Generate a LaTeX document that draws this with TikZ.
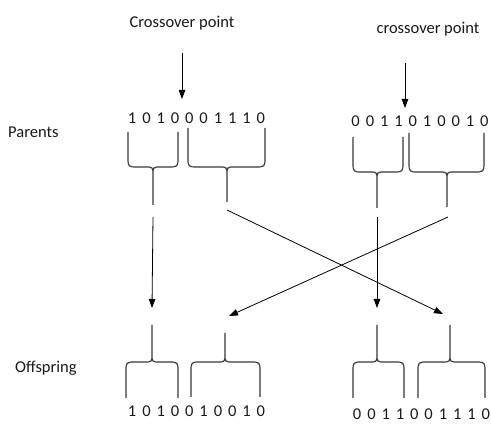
\documentclass[tikz,border=0pt]{standalone}
\usepackage{fontspec}
\setmainfont{Carlito}
\usetikzlibrary{arrows.meta}

\tikzset{
  brc/.style={draw=black!78, line width=1.2pt, line join=round},
  arr/.style={-{Triangle[width=6.5pt,length=9pt]}, line width=0.8pt},
  lbl/.style={font=\fontsize{16.5}{19}\selectfont, text=black!90, inner sep=0pt},
  bits/.style={lbl},
}

% one row of genes, every digit in a box of the same width
\newcommand\bitrow[1]{\foreach \b in {#1}{\makebox[14.3pt]{\b}}}

% brace: sides at #1 and #2, spike at #3; sides end at #4, bar at #5, spike tip at #6 (named #7)
\newcommand\gbrace[7]{
  \pgfmathsetmacro\bd{ifthenelse(#6>#5,10,-10)}
  \pgfmathsetmacro\sd{ifthenelse(#6>#5,8,-8)}
  \draw[brc] (#1,#4) -- (#1,{#5-(\bd)}) .. controls (#1,#5) .. ({#1+10},#5) -- ({#3-8},#5)
    .. controls (#3,#5) .. (#3,{#5+(\sd)}) -- (#3,#6)
    (#3,{#5+(\sd)}) .. controls (#3,#5) .. ({#3+8},#5) -- ({#2-10},#5)
    .. controls (#2,#5) .. (#2,{#5-(\bd)}) -- (#2,#4);
  \coordinate (#7) at (#3,#6);
}

\begin{document}
\begin{tikzpicture}[x=1pt, y=-1pt]
  \useasboundingbox (0,0) rectangle (491,427);

  % labels
  \node[lbl] (cp1) at (182,23) {Crossover point};
  \node[lbl] (cp2) at (428,29) {crossover point};
  \node[lbl, anchor=west] (par) at (8,132) {Parents};
  \node[lbl, anchor=west] (off) at (15,368) {Offspring};

  % parents
  \node[bits] (p1) at (196.5,118) {\bitrow{1,0,1,0,0,0,1,1,1,0}};
  \node[bits] (p2) at (420,121) {\bitrow{0,0,1,1,0,1,0,0,1,0}};

  % offspring
  \node[bits] (o1) at (196.5,411) {\bitrow{1,0,1,0,0,1,0,0,1,0}};
  \node[bits] (o2) at (421.5,414) {\bitrow{0,0,1,1,0,0,1,1,1,0}};

  % crossover arrows
  \coordinate (c1) at (182,53);
  \coordinate (c2) at (405,63);
  \draw[arr] (c1) -- (182,99);
  \draw[arr] (c2) -- (405,108);

  % braces under the parents
  \gbrace{128}{178}{153}{132}{167}{205}{b1}
  \gbrace{188}{265}{227}{128}{167}{202}{b2}
  \gbrace{353}{403}{377}{137}{172}{208}{b3}
  \gbrace{409}{484}{447}{133}{172}{207}{b4}

  % braces over the offspring
  \gbrace{126}{178}{152}{398}{362}{325}{b5}
  \gbrace{191}{260}{225}{397}{362}{333}{b6}
  \gbrace{353}{404}{377}{398}{362}{325}{b7}
  \gbrace{418}{485}{450}{398}{362}{325}{b8}

  % where the pieces go
  \coordinate (s1) at (153,217);
  \coordinate (s2) at (227,210);
  \coordinate (s3) at (377,217);
  \coordinate (s4) at (448,217);
  \coordinate (e1) at (152,308);
  \coordinate (e2) at (229,316);
  \coordinate (e3) at (377,308);
  \coordinate (e4) at (443,314);
  \draw[arr] (s1) -- (e1);
  \draw[arr] (s2) -- (e4);
  \draw[arr] (s3) -- (e3);
  \draw[arr] (s4) -- (e2);
\end{tikzpicture}
\end{document}
